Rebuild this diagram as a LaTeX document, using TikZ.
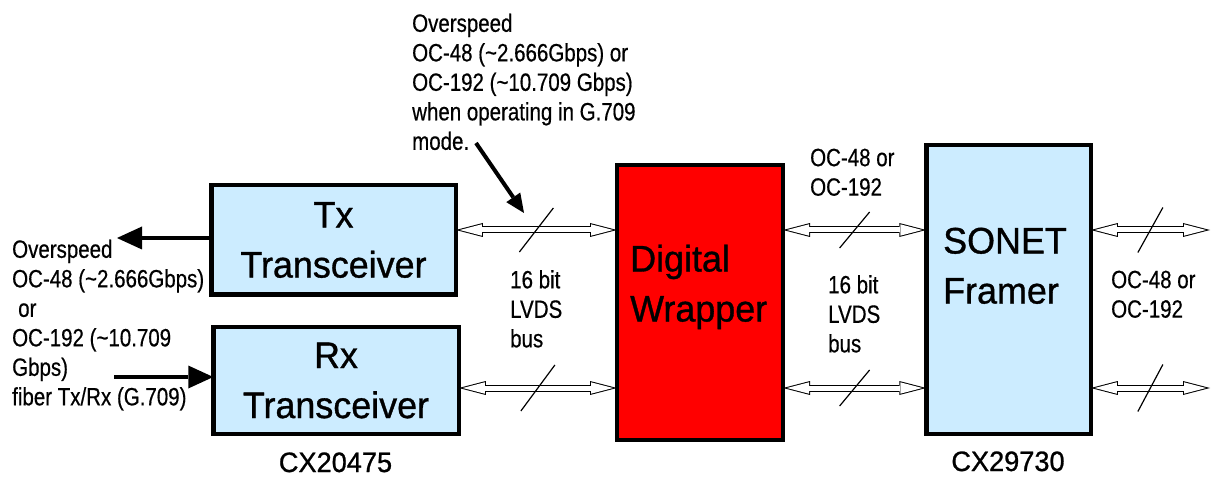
\documentclass[tikz,border=0pt]{standalone}
\usepackage{fontspec}
\setmainfont{Liberation Sans}[FakeStretch=0.82, FakeBold=0.5]
\newfontfamily\blockfont{Liberation Sans}[FakeStretch=0.97, FakeBold=0.9]
\usetikzlibrary{arrows.meta}

\definecolor{chipblue}{RGB}{204,236,255}
\definecolor{wrapred}{RGB}{255,0,0}

\tikzset{
    block/.style={draw=black, line width=4.5pt, outer sep=0pt, inner sep=0pt,
        font=\blockfont\fontsize{37}{50}\selectfont, align=center},
    blocktext/.style={font=\blockfont\fontsize{37}{50}\selectfont, align=left, inner sep=0pt, anchor=north west},
    note/.style={font=\fontsize{25}{29.5}\selectfont, align=left, inner sep=0pt, anchor=north west},
    partno/.style={font=\blockfont\fontsize{28}{30}\selectfont, inner sep=0pt, anchor=base},
    bus/.style={draw=white, line width=5pt,
        {Triangle[length=22pt,width=11.4pt,line width=0pt]}-{Triangle[length=22pt,width=11.4pt,line width=0pt]},
        shorten <=4pt, shorten >=4pt,
        preaction={draw=black, line width=7pt, shorten <=0pt, shorten >=0pt,
            {Triangle[length=27pt,width=14pt,line width=0pt]}-{Triangle[length=27pt,width=14pt,line width=0pt]}}},
    fiber/.style={line width=4pt, -{Triangle[length=25pt,width=23pt,line width=0pt]}},
    slash/.style={line width=1.2pt},
}

\begin{document}
\begin{tikzpicture}[x=1pt, y=-1pt]
    \useasboundingbox (0,0) rectangle (1213,478);

    % transceivers
    \node[block, fill=chipblue, minimum width=244.5pt, minimum height=109.5pt] (tx) at (333.5,240) {Tx\\Transceiver};
    \node[block, fill=chipblue, minimum width=245.5pt, minimum height=106.5pt] (rx) at (336,380.5) {Rx\\Transceiver};
    \node[partno] (cxa) at (335.5,472) {CX20475};

    % wrapper and framer
    \node[block, fill=wrapred, minimum width=166pt, minimum height=274.5pt] (dw) at (700,302.5) {};
    \node[blocktext] (dwtext) at (630,244.5) {Digital\\Wrapper};
    \node[block, fill=chipblue, minimum width=164.5pt, minimum height=288.5pt] (sonet) at (1008.5,289.5) {};
    \node[blocktext] (sonettext) at (943,227.5) {SONET\\Framer};
    \node[partno] (cxb) at (1008,471) {CX29730};

    % bus levels
    \coordinate (upper) at (0,230);
    \coordinate (lower) at (0,388);
    \coordinate (outU) at (1210,230);
    \coordinate (outL) at (1210,388);

    % LVDS buses
    \draw[bus] (tx.east |- upper) -- coordinate (cutA) (dw.west |- upper);
    \draw[bus] (rx.east |- lower) -- coordinate (cutB) (dw.west |- lower);
    \draw[bus] (dw.east |- upper) -- coordinate (cutC) (sonet.west |- upper);
    \draw[bus] (dw.east |- lower) -- coordinate (cutD) (sonet.west |- lower);
    \draw[bus] (sonet.east |- upper) -- coordinate (cutE) (outU);
    \draw[bus] (sonet.east |- lower) -- coordinate (cutF) (outL);

    % bus width marks
    \foreach \cut/\dx/\dy in {cutA/17/22, cutB/17/23, cutC/15/18, cutD/15/18, cutE/12.5/22.5, cutF/12.5/23.5}
        \draw[slash] ([shift={(-\dx,\dy)}]\cut) -- ([shift={(\dx,-\dy)}]\cut);

    % fiber in and out
    \coordinate (fibreOut) at (117,238);
    \coordinate (fibreIn) at (114,377);
    \draw[fiber] (tx.west |- fibreOut) -- (fibreOut);
    \draw[fiber] (fibreIn) -- (rx.west |- fibreIn);

    % pointer to the bus
    \coordinate (modeTail) at (476,143);
    \coordinate (modeHead) at (524,213);
    \draw[fiber, -{Triangle[length=19pt,width=17pt,line width=0pt]}] (modeTail) -- (modeHead);

    % labels
    \node[note] (overTop) at (412,13.5) {Overspeed\\OC-48 (\textasciitilde2.666Gbps) or\\OC-192 (\textasciitilde10.709 Gbps)\\when operating in G.709\\mode.};
    \node[note] (overLeft) at (12,239.5) {Overspeed\\OC-48 (\textasciitilde2.666Gbps)\\\hspace*{6pt}or\\OC-192 (\textasciitilde10.709\\Gbps)\\fiber Tx/Rx (G.709)};
    \node[note] (lvdsA) at (510,270) {16 bit\\LVDS\\bus};
    \node[note] (lvdsB) at (828,275) {16 bit\\LVDS\\bus};
    \node[note] (rateA) at (810,148.5) {OC-48 or\\OC-192};
    \node[note] (rateB) at (1111,270.5) {OC-48 or\\OC-192};
\end{tikzpicture}
\end{document}
